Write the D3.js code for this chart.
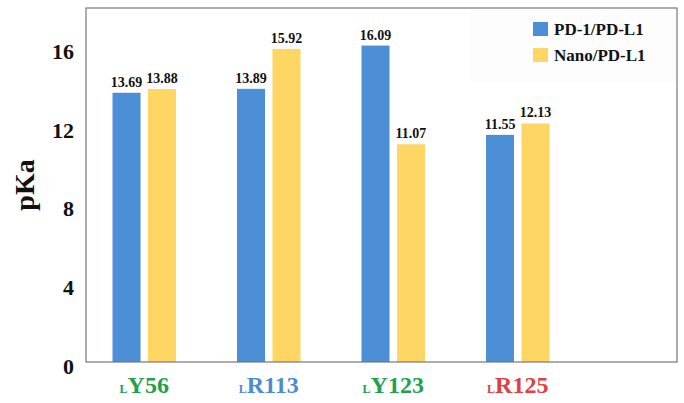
<!DOCTYPE html>
<html>
<head>
<meta charset="utf-8">
<script src="https://cdn.jsdelivr.net/npm/d3@7"></script>
<style>
  body { margin: 0; background: #fff; }
  svg { display: block; }
  text { font-family: "Liberation Serif", "Times New Roman", serif; font-weight: bold; }
</style>
</head>
<body>
<svg id="chart" width="684" height="403"></svg>
<script>
// chart data
var residues = ["Y56", "R113", "Y123", "R125"];
var residueColors = ["#22a04b", "#4a8ccc", "#22a04b", "#e0403f"];
var seriesNames = ["PD-1/PD-L1", "Nano/PD-L1"];
var seriesColors = ["#4d8fd6", "#fdd663"];
var pd1Values = [13.69, 13.89, 16.09, 11.55];
var nanoValues = [13.88, 15.92, 11.07, 12.13];
var yTicks = [0, 4, 8, 12, 16];

var svg = d3.select("#chart");
var frame = { left: 86, right: 677, top: 8, bottom: 362 };

var x0 = d3.scaleBand().domain(residues).range([82, 580]).paddingInner(0.49).paddingOuter(0.245);
var x1 = d3.scaleBand().domain(seriesNames).range([0, x0.bandwidth()]).paddingInner(0.21);
var y = d3.scaleLinear().domain([0, 18]).range([frame.bottom, frame.top]);

// faint legend backdrop
svg.append("rect")
  .attr("x", 470).attr("y", frame.top + 1)
  .attr("width", frame.right - 471).attr("height", 74)
  .attr("fill", "#fdfdfd");

var rows = residues.map(function (r, i) {
  return { name: r, values: [pd1Values[i], nanoValues[i]] };
});

var groups = svg.append("g").selectAll("g")
  .data(rows)
  .join("g")
  .attr("transform", function (d) { return "translate(" + x0(d.name) + ",0)"; });

groups.selectAll("rect")
  .data(function (d) { return d.values.map(function (v, i) { return { s: seriesNames[i], v: v, i: i }; }); })
  .join("rect")
  .attr("x", function (d) { return x1(d.s); })
  .attr("y", function (d) { return y(d.v); })
  .attr("width", x1.bandwidth())
  .attr("height", function (d) { return y(0) - y(d.v); })
  .attr("fill", function (d) { return seriesColors[d.i]; });

groups.selectAll("text.val")
  .data(function (d) { return d.values.map(function (v, i) { return { s: seriesNames[i], v: v }; }); })
  .join("text")
  .attr("class", "val")
  .attr("x", function (d) { return x1(d.s) + x1.bandwidth() / 2; })
  .attr("y", function (d) { return y(d.v) - 6; })
  .attr("text-anchor", "middle")
  .attr("font-size", 14)
  .attr("fill", "#111")
  .text(function (d) { return d.v.toFixed(2); });

// frame
svg.append("rect")
  .attr("x", frame.left).attr("y", frame.top)
  .attr("width", frame.right - frame.left).attr("height", frame.bottom - frame.top)
  .attr("fill", "none").attr("stroke", "#777").attr("stroke-width", 1.2);

// y axis labels
var yAxis = svg.append("g")
  .attr("transform", "translate(" + frame.left + ",0)")
  .call(d3.axisLeft(y).tickValues(yTicks).tickSize(0).tickPadding(12).tickFormat(d3.format("d")));
yAxis.select(".domain").remove();
yAxis.selectAll("text")
  .attr("font-size", 22)
  .attr("font-family", "Liberation Serif, serif")
  .attr("font-weight", "bold")
  .attr("fill", "#111")
  .attr("dy", "0.5em");

svg.append("text")
  .attr("transform", "translate(34,185) rotate(-90)")
  .attr("text-anchor", "middle")
  .attr("font-size", 28)
  .attr("fill", "#111")
  .text("pKa");

// category labels with small L prefix
var cats = svg.append("g").selectAll("text")
  .data(residues)
  .join("text")
  .attr("x", function (d) { return x0(d) + x0.bandwidth() / 2; })
  .attr("y", 393)
  .attr("text-anchor", "middle")
  .attr("fill", function (d, i) { return residueColors[i]; });
cats.append("tspan").attr("font-size", 12).text("L");
cats.append("tspan").attr("font-size", 24).text(function (d) { return d; });

// legend
var legend = svg.append("g").selectAll("g")
  .data(seriesNames)
  .join("g")
  .attr("transform", function (d, i) { return "translate(533," + (22 + i * 26) + ")"; });
legend.append("rect")
  .attr("width", 15).attr("height", 14)
  .attr("fill", function (d, i) { return seriesColors[i]; });
legend.append("text")
  .attr("x", 21).attr("y", 7)
  .attr("dy", "0.35em")
  .attr("font-size", 17)
  .attr("fill", "#111")
  .text(function (d) { return d; });
</script>
</body>
</html>
